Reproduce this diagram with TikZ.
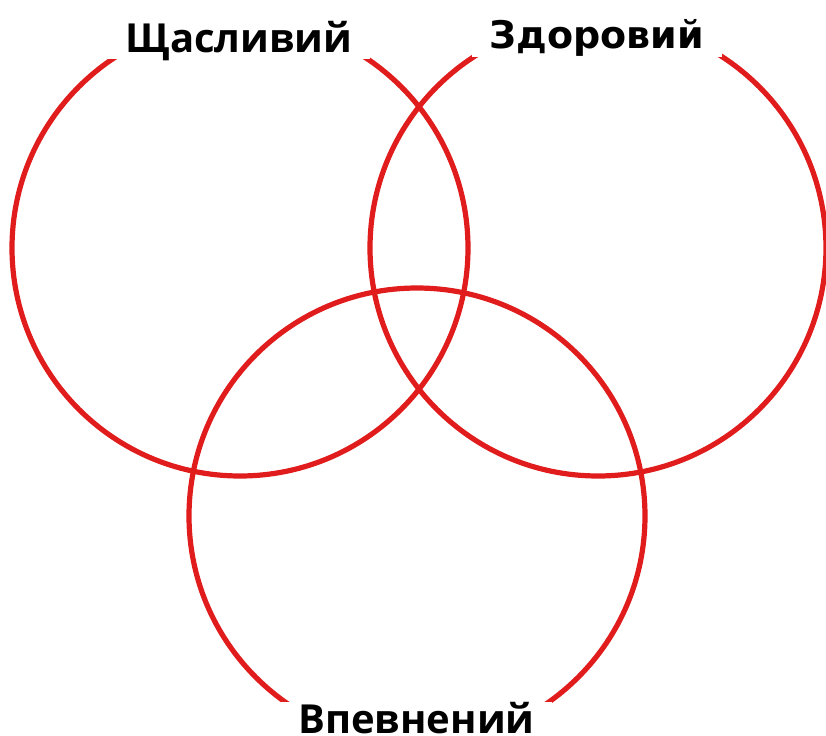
\documentclass[tikz,border=0pt]{standalone}
\usepackage{fontspec}
\setmainfont{Open Sans}
\newfontfamily\dejavu{DejaVu Sans}
\usetikzlibrary{positioning}
\definecolor{vennred}{RGB}{224,28,28}

\begin{document}
\begin{tikzpicture}[
  x=0.75pt, y=-0.75pt,
  ring/.style={draw=vennred, line width=3.9pt, circle, minimum size=342pt, inner sep=0pt},
  tag/.style={fill=white, anchor=base, inner xsep=13pt, inner ysep=0pt, text height=30pt, text depth=5.5pt, font=\fontsize{30}{36}\selectfont\bfseries},
]
\useasboundingbox (0,0) rectangle (826,736);
\clip (0,0) rectangle (826,736);
% three sets
\node[ring] (happy) at (240,248) {};
\node[ring] (healthy) at (598,248) {};
\node[ring] (sure) at (417,516) {};
% labels over the rings
\node[tag] (happylbl) at (239,52) {Щасливий};
\node[tag, text depth=7pt, font=\fontsize{28.5}{34}\selectfont\dejavu\bfseries] (healthylbl) at (597,48) {Здоровий};
\node[tag, text height=23pt, text depth=8pt] (surelbl) at (416.5,733) {Впевнений};
\end{tikzpicture}
\end{document}
